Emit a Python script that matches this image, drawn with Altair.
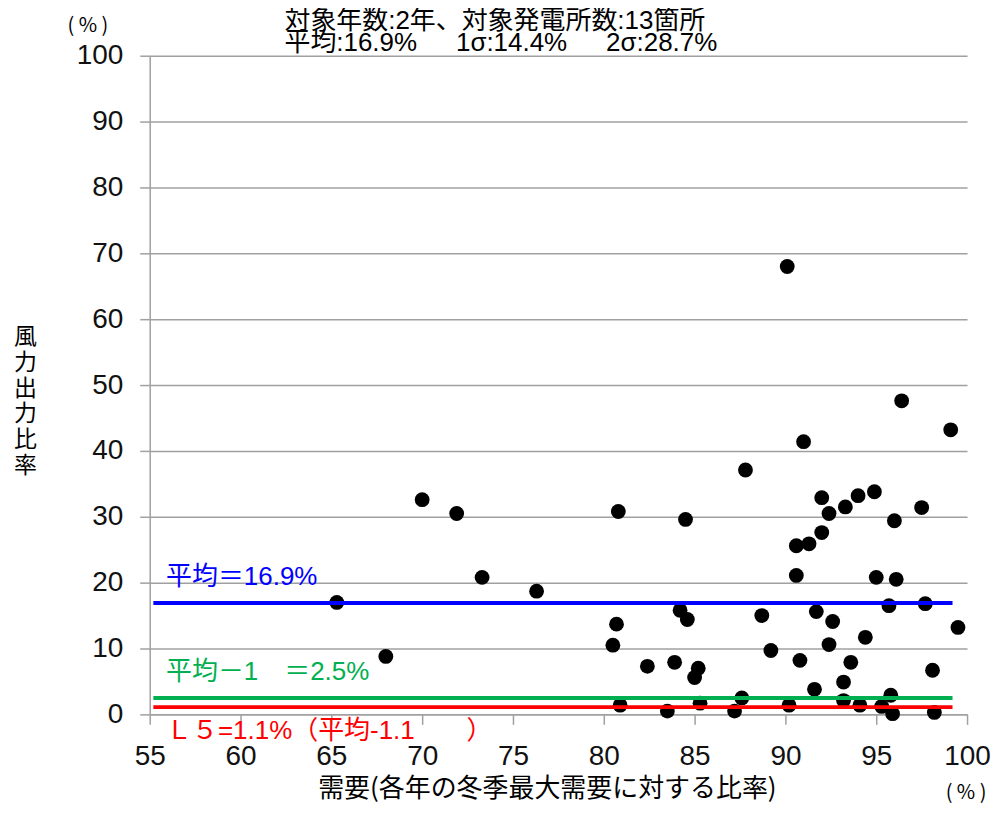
import altair as alt
import pandas as pd

# ---- data ----
demand = [65.3, 68.0, 70.0, 71.9, 73.3, 76.3, 80.5, 80.7, 80.8, 80.9,
          82.4, 83.5, 83.9, 84.2, 84.5, 84.6, 85.0, 85.2, 85.3, 87.2,
          87.6, 87.8, 88.7, 89.2, 90.1, 90.2, 90.6, 90.6, 90.8, 91.0,
          91.3, 91.6, 91.7, 92.0, 92.0, 92.4, 92.4, 92.6, 93.2, 93.2,
          93.3, 93.6, 94.0, 94.1, 94.4, 94.9, 95.0, 95.3, 95.7, 95.8,
          95.9, 96.0, 96.1, 96.4, 97.5, 97.7, 98.1, 98.2, 99.1, 99.5]
wind = [17.0, 8.8, 32.6, 30.5, 20.8, 18.7, 10.5, 13.7, 30.8, 1.4,
        7.3, 0.5, 7.9, 15.8, 29.6, 14.4, 5.6, 7.0, 1.7, 0.5,
        2.5, 37.1, 15.0, 9.7, 68.0, 1.4, 25.6, 21.1, 8.2, 41.4,
        25.9, 3.8, 15.6, 27.6, 32.9, 30.5, 10.6, 14.1, 4.9, 2.1,
        31.5, 7.9, 33.2, 1.4, 11.7, 33.8, 20.8, 1.2, 16.5, 2.9,
        0.1, 29.4, 20.5, 47.6, 31.4, 16.8, 6.7, 0.3, 43.2, 13.2]

ref_names = ["平均", "平均-1σ", "L5"]
ref_values = [16.9, 2.5, 1.1]
ref_colors = ["#0000ff", "#00b050", "#ff0000"]
ref_labels = ["平均＝16.9%", "平均－1\u3000＝2.5%", "Ｌ５=1.1%（平均-1.1\u3000\u3000）"]
line_start = 55.2
line_end = 99.2

title_lines = ["対象年数:2年、対象発電所数:13箇所",
               "平均:16.9%\u3000\u20021σ:14.4%\u3000\u20022σ:28.7%"]
x_title = "需要(各年の冬季最大需要に対する比率)"
y_title = "風力出力比率"
unit_label = "( % )"

x_ticks = list(range(55, 101, 5))
y_ticks = list(range(0, 101, 10))

CJK = "Noto Sans CJK JP"
MIX = "'Liberation Sans', 'Noto Sans CJK JP', sans-serif"
NUM = "Liberation Sans"
GRAY = "#a0a0a0"

df = pd.DataFrame({"demand": demand, "wind": wind})
ref_df = pd.DataFrame({"name": ref_names, "value": ref_values, "label": ref_labels})

xscale = alt.Scale(domain=[55, 100], nice=False, zero=False)
yscale = alt.Scale(domain=[0, 100], nice=False, zero=True)

x_axis = alt.Axis(values=x_ticks, grid=False, labelFont=NUM, labelFontSize=28,
                  labelFontWeight="normal", labelFlush=False,
                  labelColor="#111111", labelPadding=18, tickSize=10, tickColor=GRAY,
                  tickWidth=1.5, domainColor=GRAY, domainWidth=1.5,
                  title=x_title, titleFont=CJK, titleFontSize=26, titleFontWeight="normal",
                  titleColor="black", titleX=398, titleY=74, titleAlign="center",
                  titleBaseline="middle")
y_axis = alt.Axis(values=y_ticks, grid=True, gridColor=GRAY, gridWidth=1.5,
                  labelFont=NUM, labelFontSize=28, labelFontWeight="normal", labelFlush=False,
                  labelColor="#111111", labelPadding=17,
                  tickSize=10, tickColor=GRAY, tickWidth=1.5, domainColor=GRAY,
                  domainWidth=1.5, title=list(y_title), titleFont=CJK, titleFontSize=23,
                  titleFontWeight="normal", titleColor="black", titleAngle=0,
                  titleX=-125, titleY=270, titleAlign="center", titleBaseline="top",
                  titleLineHeight=26)

points = alt.Chart(df).mark_circle(size=220, color="black", opacity=1).encode(
    x=alt.X("demand:Q", scale=xscale, axis=x_axis),
    y=alt.Y("wind:Q", scale=yscale, axis=y_axis),
)

color_scale = alt.Scale(domain=ref_names, range=ref_colors)

rules = alt.Chart(ref_df).mark_rule(strokeWidth=4).encode(
    x=alt.datum(line_start, scale=xscale),
    x2=alt.datum(line_end),
    y=alt.Y("value:Q", scale=yscale),
    color=alt.Color("name:N", scale=color_scale, legend=None),
)

label_layers = []
label_y = [20.85, 6.4, -2.5]
for i in range(3):
    label_layers.append(
        alt.Chart(ref_df.iloc[[i]]).mark_text(
            font=MIX, fontSize=26, align="left", baseline="middle", color=ref_colors[i]
        ).encode(
            x=alt.datum(55.9, scale=xscale),
            y=alt.datum(label_y[i], scale=yscale),
            text="label:N",
        )
    )

title1 = alt.Chart(pd.DataFrame({"t": [title_lines[0]]})).mark_text(
    font=MIX, fontSize=26, align="left", baseline="middle", color="black"
).encode(x=alt.value(135), y=alt.value(-35), text="t:N")
title2 = alt.Chart(pd.DataFrame({"t": [title_lines[1]]})).mark_text(
    font=MIX, fontSize=26, align="left", baseline="middle", color="black"
).encode(x=alt.value(135), y=alt.value(-13), text="t:N")

unit_top = alt.Chart(pd.DataFrame({"t": [unit_label]})).mark_text(
    font=CJK, fontSize=20, align="center", baseline="middle", color="black"
).encode(x=alt.value(-62), y=alt.value(-30), text="t:N")
unit_right = alt.Chart(pd.DataFrame({"t": [unit_label]})).mark_text(
    font=CJK, fontSize=20, align="center", baseline="middle", color="black"
).encode(x=alt.value(818), y=alt.value(79 + 660), text="t:N")

chart = alt.layer(points, rules, *label_layers, title1, title2, unit_top, unit_right).properties(
    width=819, height=660,
    padding={"left": 142, "top": 47, "right": 24, "bottom": 89},
    autosize="none",
    background="white",
).configure_view(stroke=None)

chart.save("out.html", embed_options={"renderer": "svg", "actions": False})
